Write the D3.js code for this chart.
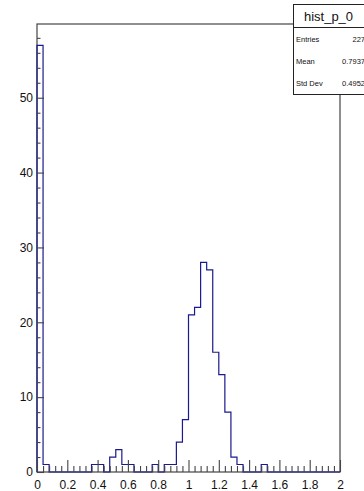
<!DOCTYPE html>
<html>
<head>
<meta charset="utf-8">
<script src="https://cdn.jsdelivr.net/npm/d3@7"></script>
<style>
  html, body { margin: 0; padding: 0; background: #fff; overflow: hidden; }
  svg { display: block; font-family: "Liberation Sans", Arial, sans-serif; }
</style>
</head>
<body>
<svg width="364" height="491"></svg>
<script>
// histogram hist_p_0 : 50 bins on [0, 2]
const binRange = [0, 2];
const counts = [
  57, 1, 0, 0, 0, 0, 0, 0, 0, 1,
  1, 0, 2, 3, 1, 1, 0, 0, 0, 1,
  0, 1, 1, 4, 7, 21, 22, 28, 27, 16,
  13, 8, 2, 1, 0, 0, 0, 1, 0, 0,
  0, 0, 0, 0, 0, 0, 0, 0, 0, 0
];
const xTicks = [0, 0.2, 0.4, 0.6, 0.8, 1, 1.2, 1.4, 1.6, 1.8, 2];
const yTicks = [0, 10, 20, 30, 40, 50];
const statNames = ["Entries", "Mean", "Std Dev"];
const statValues = ["227", "0.7937", "0.4952"];
const histName = "hist_p_0";

const svg = d3.select("svg");
const padL = 37, padR = 340, padT = 24, padB = 472;

const nBins = counts.length;
const binW = (binRange[1] - binRange[0]) / nBins;
const yMax = d3.max(counts) * 1.05;

const x = d3.scaleLinear().domain(binRange).range([padL, padR]);
const y = d3.scaleLinear().domain([0, yMax]).range([padB, padT]);

// minor tick positions
const xMinor = d3.range(0, 51).map(i => i * 0.04).filter(v => !xTicks.some(t => Math.abs(t - v) < 1e-6));
const yMinor = d3.range(0, yMax, 2).filter(v => v % 10 !== 0);

const axisColor = "#444";

// frame
svg.append("rect")
  .attr("x", padL).attr("y", padT)
  .attr("width", padR - padL).attr("height", padB - padT)
  .attr("fill", "none")
  .attr("stroke", axisColor)
  .attr("stroke-width", 1.2);

// histogram outline
const pts = [[binRange[0], 0]];
counts.forEach((c, i) => {
  pts.push([binRange[0] + i * binW, c]);
  pts.push([binRange[0] + (i + 1) * binW, c]);
});
pts.push([binRange[1], 0]);

svg.append("path")
  .attr("d", d3.line().x(d => x(d[0])).y(d => y(d[1]))(pts))
  .attr("fill", "none")
  .attr("stroke", "#1a1a8c")
  .attr("stroke-width", 1.2);

// axes
function styleAxis(g) {
  g.select(".domain").remove();
  g.selectAll(".tick line").attr("stroke", axisColor).attr("stroke-width", 1.1);
  g.selectAll(".tick text").attr("fill", "#111").style("font-size", "12px")
    .style("font-family", "'Liberation Sans', Arial, sans-serif");
}

svg.append("g")
  .attr("transform", `translate(0,${padB})`)
  .call(d3.axisBottom(x).tickValues(xTicks).tickFormat(d3.format("~g")).tickSize(-12).tickPadding(8.5))
  .call(styleAxis);

svg.append("g")
  .attr("transform", `translate(0,${padB})`)
  .call(d3.axisBottom(x).tickValues(xMinor).tickFormat("").tickSize(-6))
  .call(styleAxis);

svg.append("g")
  .attr("transform", `translate(${padL},0)`)
  .call(d3.axisLeft(y).tickValues(yTicks).tickSize(-7).tickPadding(4))
  .call(styleAxis);

svg.append("g")
  .attr("transform", `translate(${padL},0)`)
  .call(d3.axisLeft(y).tickValues(yMinor).tickFormat("").tickSize(-3.5))
  .call(styleAxis);

// stats box
const box = svg.append("g");
const bx = 293.5, by = 4.5, bw = 80, bh = 90, sep = 27.5;
box.append("rect")
  .attr("x", bx).attr("y", by).attr("width", bw).attr("height", bh)
  .attr("fill", "#fff").attr("stroke", "#222").attr("stroke-width", 1);
box.append("line")
  .attr("x1", bx).attr("x2", bx + bw).attr("y1", sep).attr("y2", sep)
  .attr("stroke", "#222").attr("stroke-width", 1);
box.append("text")
  .attr("x", 328.5).attr("y", 20.5)
  .attr("text-anchor", "middle")
  .style("font-size", "13px")
  .attr("fill", "#111")
  .text(histName);

const rowH = (by + bh - sep) / statNames.length;
statNames.forEach((name, i) => {
  const cy = sep + rowH * (i + 0.5) + 3;
  box.append("text")
    .attr("x", 296).attr("y", cy)
    .style("font-size", "7.5px")
    .attr("fill", "#111")
    .text(name);
  box.append("text")
    .attr("x", 365).attr("y", cy)
    .attr("text-anchor", "end")
    .style("font-size", "7.5px")
    .attr("fill", "#111")
    .text(statValues[i]);
});
</script>
</body>
</html>
